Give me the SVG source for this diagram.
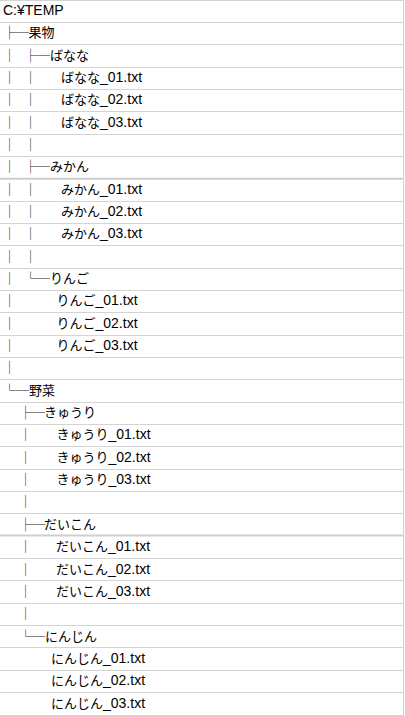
<svg xmlns="http://www.w3.org/2000/svg" width="405" height="716" viewBox="0 0 405 716">
<style>
.bg{fill:#ffffff}
.g{stroke:#d4d4d4;stroke-width:1;fill:none}
.gt{stroke:#cfcfcf;stroke-width:2;fill:none}
.t{font-family:"Noto Sans CJK JP",sans-serif;font-size:13px;fill:#222}
.l{font-family:"Liberation Sans","Noto Sans CJK JP",sans-serif;font-size:14px;fill:#000}
.j{font-family:"Noto Sans CJK JP",sans-serif;font-size:13px}
</style>
<rect class="bg" x="0" y="0" width="405" height="716"/>
<g id="grid">
<path class="g" d="M0 0.5H404M0 22.5H404M0 44.5H404M0 67.5H404M0 89.5H404M0 111.5H404M0 134.5H404M0 156.5H404M0 201.5H404M0 223.5H404M0 245.5H404M0 268.5H404M0 290.5H404M0 312.5H404M0 335.5H404M0 357.5H404M0 379.5H404M0 402.5H404M0 424.5H404M0 446.5H404M0 469.5H404M0 491.5H404M0 513.5H404M0 558.5H404M0 580.5H404M0 603.5H404M0 625.5H404M0 647.5H404M0 670.5H404M0 692.5H404M0 715.5H404M403.5 0V716"/>
<path class="gt" d="M0 178.7H404M0 535.5H404"/>
</g>
<g id="connectors">
<text class="t" x="3" y="37.34">├─</text>
<text class="t" x="3" y="59.68">│</text><text class="t" x="24" y="59.68">├─</text>
<text class="t" x="3" y="82.02">│</text><text class="t" x="24" y="82.02">│</text>
<text class="t" x="3" y="104.36">│</text><text class="t" x="24" y="104.36">│</text>
<text class="t" x="3" y="126.7">│</text><text class="t" x="24" y="126.7">│</text>
<text class="t" x="3" y="149.04">│</text><text class="t" x="24" y="149.04">│</text>
<text class="t" x="3" y="171.38">│</text><text class="t" x="24" y="171.38">├─</text>
<text class="t" x="3" y="193.72">│</text><text class="t" x="24" y="193.72">│</text>
<text class="t" x="3" y="216.06">│</text><text class="t" x="24" y="216.06">│</text>
<text class="t" x="3" y="238.4">│</text><text class="t" x="24" y="238.4">│</text>
<text class="t" x="3" y="260.74">│</text><text class="t" x="24" y="260.74">│</text>
<text class="t" x="3" y="283.08">│</text><text class="t" x="24" y="283.08">└─</text>
<text class="t" x="3" y="305.42">│</text>
<text class="t" x="3" y="327.76">│</text>
<text class="t" x="3" y="350.1">│</text>
<text class="t" x="3" y="372.44">│</text>
<text class="t" x="3" y="394.78">└─</text>
<text class="t" x="19" y="417.12">├─</text>
<text class="t" x="19" y="439.46">│</text>
<text class="t" x="19" y="461.8">│</text>
<text class="t" x="19" y="484.14">│</text>
<text class="t" x="19" y="506.48">│</text>
<text class="t" x="19" y="528.82">├─</text>
<text class="t" x="19" y="551.16">│</text>
<text class="t" x="19" y="573.5">│</text>
<text class="t" x="19" y="595.84">│</text>
<text class="t" x="19" y="618.18">│</text>
<text class="t" x="19" y="640.52">└─</text>
</g>
<g id="root"><text class="l" x="3" y="15">C:¥TEMP</text></g>
<g id="kudamono"><text class="l j" x="28.5" y="37.34">果物</text></g>
<g id="banana"><text class="l j" x="50" y="59.68">ばなな</text></g>
<g id="banana01"><text class="l" x="61" y="82.02"><tspan class="j">ばなな</tspan>_01.txt</text></g>
<g id="banana02"><text class="l" x="61" y="104.36"><tspan class="j">ばなな</tspan>_02.txt</text></g>
<g id="banana03"><text class="l" x="61" y="126.7"><tspan class="j">ばなな</tspan>_03.txt</text></g>
<g id="mikan"><text class="l j" x="50" y="171.38">みかん</text></g>
<g id="mikan01"><text class="l" x="61" y="193.72"><tspan class="j">みかん</tspan>_01.txt</text></g>
<g id="mikan02"><text class="l" x="61" y="216.06"><tspan class="j">みかん</tspan>_02.txt</text></g>
<g id="mikan03"><text class="l" x="61" y="238.4"><tspan class="j">みかん</tspan>_03.txt</text></g>
<g id="ringo"><text class="l j" x="50" y="283.08">りんご</text></g>
<g id="ringo01"><text class="l" x="56.5" y="305.42"><tspan class="j">りんご</tspan>_01.txt</text></g>
<g id="ringo02"><text class="l" x="56.5" y="327.76"><tspan class="j">りんご</tspan>_02.txt</text></g>
<g id="ringo03"><text class="l" x="56.5" y="350.1"><tspan class="j">りんご</tspan>_03.txt</text></g>
<g id="yasai"><text class="l j" x="29" y="394.78">野菜</text></g>
<g id="kyuri"><text class="l j" x="44" y="417.12">きゅうり</text></g>
<g id="kyuri01"><text class="l" x="56.5" y="439.46"><tspan class="j">きゅうり</tspan>_01.txt</text></g>
<g id="kyuri02"><text class="l" x="56.5" y="461.8"><tspan class="j">きゅうり</tspan>_02.txt</text></g>
<g id="kyuri03"><text class="l" x="56.5" y="484.14"><tspan class="j">きゅうり</tspan>_03.txt</text></g>
<g id="daikon"><text class="l j" x="44" y="528.82">だいこん</text></g>
<g id="daikon01"><text class="l" x="56" y="551.16"><tspan class="j">だいこん</tspan>_01.txt</text></g>
<g id="daikon02"><text class="l" x="56" y="573.5"><tspan class="j">だいこん</tspan>_02.txt</text></g>
<g id="daikon03"><text class="l" x="56" y="595.84"><tspan class="j">だいこん</tspan>_03.txt</text></g>
<g id="ninjin"><text class="l j" x="45" y="640.52">にんじん</text></g>
<g id="ninjin01"><text class="l" x="51" y="662.86"><tspan class="j">にんじん</tspan>_01.txt</text></g>
<g id="ninjin02"><text class="l" x="51" y="685.2"><tspan class="j">にんじん</tspan>_02.txt</text></g>
<g id="ninjin03"><text class="l" x="51" y="707.54"><tspan class="j">にんじん</tspan>_03.txt</text></g>
</svg>
